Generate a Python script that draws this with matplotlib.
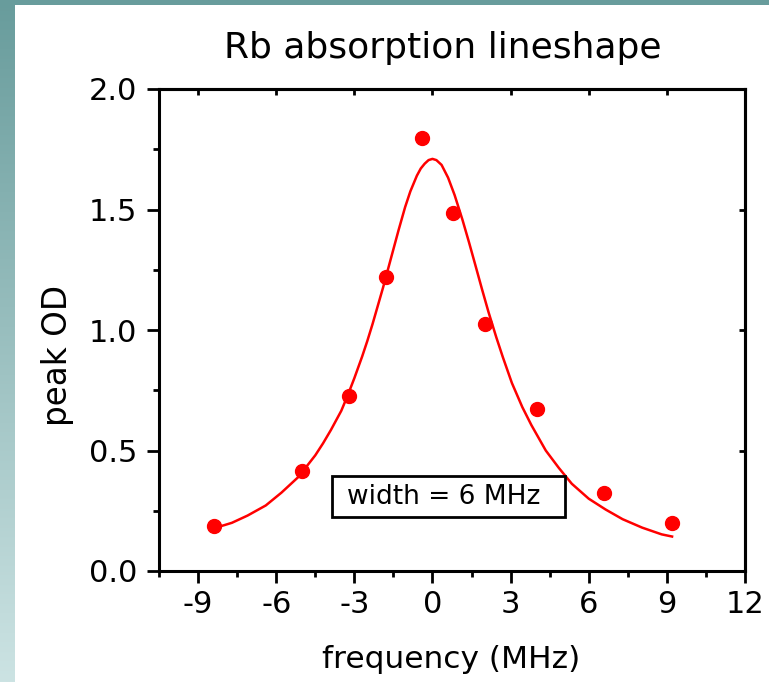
import numpy as np
import matplotlib
matplotlib.use("Agg")
import matplotlib.pyplot as plt
from matplotlib.patches import Rectangle

# measured data points
freq_pts = [-8.4, -5.0, -3.2, -1.8, -0.4, 0.8, 2.0, 4.0, 6.6, 9.2]
od_pts = [0.187, 0.416, 0.726, 1.219, 1.798, 1.487, 1.024, 0.672, 0.322, 0.200]

# fitted curve
fit_freq = [-8.4, -8.0, -7.7, -7.1, -6.4, -5.8, -5.15, -4.5, -4.2, -3.9, -3.5, -3.25,
            -3.0, -2.7, -2.5, -2.3, -2.1, -1.9, -1.7, -1.5, -1.3, -1.05, -0.85, -0.6,
            -0.45, -0.3, -0.15, 0.0, 0.15, 0.35, 0.6, 0.85, 1.15, 1.4, 1.65, 1.9, 2.15,
            2.45, 2.7, 3.05, 3.45, 3.8, 4.35, 4.85, 5.35, 6.0, 6.65, 7.3, 8.05, 8.8, 9.2]
fit_od = [0.178, 0.19, 0.20, 0.23, 0.272, 0.325, 0.39, 0.48, 0.53, 0.585, 0.665, 0.73,
          0.80, 0.89, 0.955, 1.025, 1.10, 1.175, 1.255, 1.335, 1.415, 1.51, 1.575, 1.64,
          1.67, 1.69, 1.705, 1.71, 1.705, 1.685, 1.632, 1.56, 1.458, 1.365, 1.268, 1.17,
          1.075, 0.97, 0.888, 0.78, 0.68, 0.605, 0.50, 0.428, 0.362, 0.30, 0.255, 0.215,
          0.18, 0.152, 0.143]

x_ticks = [-9, -6, -3, 0, 3, 6, 9, 12]
y_ticks = [0.0, 0.5, 1.0, 1.5, 2.0]
y_ticklabels = ["0.0", "0.5", "1.0", "1.5", "2.0"]

W, H = 769, 682
fig = plt.figure(figsize=(W / 100, H / 100), dpi=100)

# background frame with teal gradient
bg = fig.add_axes([0, 0, 1, 1], zorder=-10)
grad = np.linspace(0, 1, 256)[:, None]
c_top = np.array([0x68, 0x9c, 0x9c]) / 255
c_bot = np.array([0xcc, 0xe3, 0xe3]) / 255
img = c_top[None, None, :] * (1 - grad[:, :, None]) + c_bot[None, None, :] * grad[:, :, None]
bg.imshow(np.repeat(img, 2, axis=1), aspect="auto", extent=[0, 1, 0, 1])
bg.add_patch(Rectangle((15 / W, 0), 1, 1 - 5 / H, facecolor="white", edgecolor="none"))
bg.set_xlim(0, 1)
bg.set_ylim(0, 1)
bg.axis("off")

ax = fig.add_axes([159 / W, 1 - 571 / H, (745 - 159) / W, (571 - 89) / H])
ax.set_facecolor("none")

ax.plot(fit_freq, fit_od, color="#ff0000", lw=1.8, zorder=3, solid_joinstyle="round")
ax.plot(freq_pts, od_pts, "o", color="#ff0000", ms=10, mec="#ff0000", zorder=4)

ax.set_xlim(-10.5, 12)
ax.set_ylim(0, 2.0)
ax.set_xticks(x_ticks)
ax.set_xticklabels([str(t) for t in x_ticks])
ax.set_xticks(np.arange(-10.5, 12, 3), minor=True)
ax.set_yticks(y_ticks)
ax.set_yticklabels(y_ticklabels)
ax.set_yticks(np.arange(0.25, 2.0, 0.5), minor=True)

for s in ax.spines.values():
    s.set_linewidth(2.2)

ax.tick_params(which="major", direction="out", length=8.5, width=2.0, labelsize=22, pad=5)
ax.tick_params(axis="y", which="major", pad=7)
ax.tick_params(which="minor", direction="out", length=4.5, width=2.0)
ax.tick_params(top=False, right=False, which="both")

top = ax.secondary_xaxis("top")
top.set_xticks(x_ticks)
top.tick_params(direction="in", length=4.5, width=2.0, labeltop=False)
top.spines["top"].set_linewidth(2.2)
right = ax.secondary_yaxis("right")
right.set_yticks(y_ticks)
right.tick_params(direction="in", length=4.5, width=2.0, labelright=False)
right.spines["right"].set_linewidth(2.2)

# annotation box
box = Rectangle((332, 682 - 517), 565 - 332, 517 - 476, transform=None,
                facecolor="white", edgecolor="black", lw=2.0, zorder=5)
fig.patches.append(box)
fig.text(444 / W, 1 - 497 / H, "width = 6 MHz", fontsize=19, ha="center", va="center",
         zorder=6)

fig.text(443 / W, 1 - 58 / H, "Rb absorption lineshape", fontsize=26, ha="center", va="baseline")
fig.text(451 / W, 1 - 660 / H, "frequency (MHz)", fontsize=22.5, ha="center", va="center")
fig.text(57 / W, 1 - 356 / H, "peak OD", fontsize=23.5, ha="center", va="center", rotation=90)

fig.savefig("out.png", dpi=100)
